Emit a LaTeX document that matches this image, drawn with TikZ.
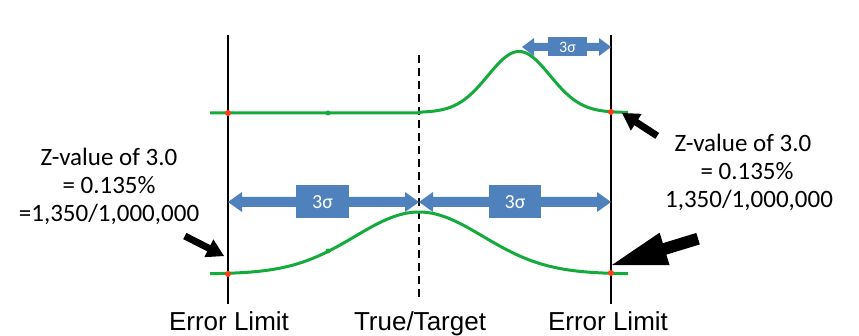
\documentclass[tikz,border=0pt]{standalone}
\usepackage{fontspec}
\setmainfont{Carlito}
\newfontfamily\arialf{Liberation Sans}
\definecolor{curvegreen}{RGB}{20,170,60}
\definecolor{boxblue}{RGB}{79,129,189}
\definecolor{dotred}{RGB}{255,60,20}
\newcommand{\dblarrow}[6]{% x1,x2,y,shaft half,head half,head length
  \fill[boxblue] (#1,#3) -- ({#1+#6},{#3+#5}) -- ({#1+#6},{#3+#4}) -- ({#2-#6},{#3+#4}) -- ({#2-#6},{#3+#5}) -- (#2,#3) -- ({#2-#6},{#3-#5}) -- ({#2-#6},{#3-#4}) -- ({#1+#6},{#3-#4}) -- ({#1+#6},{#3-#5}) -- cycle;}
\newcommand{\blockarrow}[7]{% tipx,tipy,angle,length,shaft half,head half,head length
  \fill[black, shift={(#1,#2)}, rotate=#3] (0,0) -- (-#7,#6) -- (-#7,#5) -- (-#4,#5) -- (-#4,-#5) -- (-#7,-#5) -- (-#7,-#6) -- cycle;}
\begin{document}
\begin{tikzpicture}[x=1pt,y=1pt,
  limit/.style={line width=1.8pt,black},
  target/.style={line width=1.8pt,black,dash pattern=on 8pt off 5pt},
  curve/.style={line width=3pt,curvegreen},
  reddot/.style={circle,fill=dotred,inner sep=0pt,minimum size=6pt},
  greendot/.style={circle,fill=curvegreen,inner sep=0pt,minimum size=5pt},
  sigbox/.style={fill=boxblue,text=white,inner sep=0pt},
  note/.style={align=center,font=\fontsize{25}{28}\selectfont},
  lbl/.style={anchor=base,font=\arialf\fontsize{26}{28}\selectfont}]
\useasboundingbox (0,0) rectangle (859,-336);
\fill[white] (0,0) rectangle (859,-336);
% vertical lines
\coordinate (L1) at (228,-35); \coordinate (L2) at (228,-304);
\coordinate (R1) at (611,-35); \coordinate (R2) at (611,-304);
\coordinate (T1) at (419,-55); \coordinate (T2) at (419,-300);
\draw[limit] (L1) -- (L2);
\draw[limit] (R1) -- (R2);
\draw[target] (T1) -- (T2);
% blue double arrows
\dblarrow{522}{611}{-47}{4}{9}{12}
\node[sigbox,minimum width=39pt,minimum height=19pt,font=\fontsize{16}{16}\selectfont] (stop) at (567.5,-47) {3σ};
\dblarrow{228}{419}{-202}{5}{10}{14}
\node[sigbox,minimum width=53pt,minimum height=33pt,font=\fontsize{20}{20}\selectfont] (sbl) at (322.5,-202) {3σ};
\dblarrow{419}{611}{-202}{5}{10}{14}
\node[sigbox,minimum width=52pt,minimum height=33pt,font=\fontsize{20}{20}\selectfont] (sbr) at (515,-202) {3σ};
% curves
\draw[curve] (210,-113) -- (419,-113) -- plot[domain=419:628,samples=120] (\x,{-112.5+61*exp(-0.5*((\x-519)/31)^2)});
\draw[curve] plot[domain=210:628,samples=150] (\x,{-274+62*exp(-0.5*((\x-419)/64)^2)});
% dots
\node[reddot] (d1) at (228,-113) {};
\node[reddot] (d2) at (611,-112) {};
\node[reddot] (d3) at (228,-274) {};
\node[reddot] (d4) at (611,-273) {};
\node[greendot] (g1) at (328,-113) {};
\node[greendot] (g2) at (328,-251) {};
% black block arrows
\blockarrow{224}{-256}{-27}{44}{3.5}{10}{17}
\blockarrow{622}{-113}{147}{42}{3.5}{10}{17}
\blockarrow{612}{-265}{197}{90}{6}{17}{55}
% texts
\node[note] (zl) at (109,-186) {Z-value of 3.0\\= 0.135\%\\=1,350/1,000,000};
\node[note] (zr) at (743,-172) {Z-value of 3.0\\\hspace*{8pt}= 0.135\%\\\hspace*{12pt}1,350/1,000,000};
\node[lbl] (e1) at (229,-331) {Error Limit};
\node[lbl] (tt) at (420,-331) {True/Target};
\node[lbl] (e2) at (608,-331) {Error Limit};
\end{tikzpicture}
\end{document}
